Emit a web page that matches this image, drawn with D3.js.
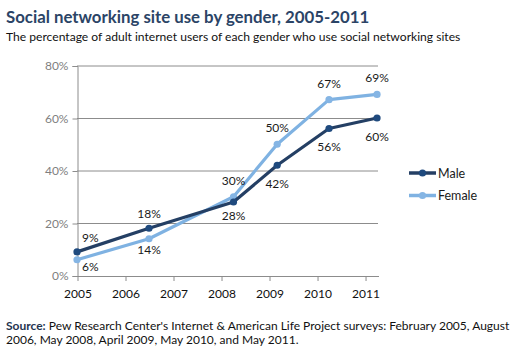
<!DOCTYPE html>
<meta charset="utf-8">
<style>
  body { margin: 0; background: #fff; }
  text { font-family: Lato, "Open Sans", sans-serif; }
</style>
<svg width="515" height="354"></svg>
<script src="https://cdn.jsdelivr.net/npm/d3@7"></script>
<script>

// survey dates as fractional years (Feb 2005, Aug 2006, May 2008, Apr 2009, May 2010, May 2011)
var surveyDates = [2005.0, 2006.5, 2008.26, 2009.17, 2010.25, 2011.25];
var male = [9, 18, 28, 42, 56, 60];
var female = [6, 14, 30, 50, 67, 69];
var yearTicks = [2005, 2006, 2007, 2008, 2009, 2010, 2011];
var pctTicks = [0, 20, 40, 60, 80];

var svg = d3.select("svg");
var x = d3.scaleLinear().domain([2005, 2011.27]).range([77, 378]);
var y = d3.scaleLinear().domain([0, 80]).range([275.5, 65.5]);

svg.append("text").attr("x", 6).attr("y", 23)
  .attr("font-size", 16.8).attr("font-weight", "bold").attr("fill", "#2b4466")
  .text("Social networking site use by gender, 2005-2011");
svg.append("text").attr("x", 6).attr("y", 41)
  .attr("font-size", 12.1).attr("fill", "#111")
  .text("The percentage of adult internet users of each gender who use social networking sites");

// gridlines
svg.append("g").selectAll("line").data(pctTicks.slice(1)).enter().append("line")
  .attr("x1", x.range()[0]).attr("x2", x.range()[1])
  .attr("y1", function(d) { return y(d) + 0.5; }).attr("y2", function(d) { return y(d) + 0.5; })
  .attr("stroke", "#8c8c8c").attr("stroke-width", 1);

var yAxis = svg.append("g").attr("transform", "translate(77.5,0.5)")
  .call(d3.axisLeft(y).tickValues(pctTicks).tickSize(5).tickPadding(4)
    .tickFormat(function(d) { return d + "%"; }));
yAxis.selectAll("text").attr("font-size", 12).attr("fill", "#7f7f7f").attr("font-family", "Lato, sans-serif");

var xAxis = svg.append("g").attr("transform", "translate(0.5," + (y(0) + 0.5) + ")")
  .call(d3.axisBottom(x).tickValues(yearTicks).tickSize(5).tickPadding(8).tickSizeOuter(0)
    .tickFormat(d3.format("d")));
xAxis.selectAll("text").attr("font-size", 12).attr("fill", "#111").attr("font-family", "Lato, sans-serif");
svg.selectAll(".domain, .tick line").attr("stroke", "#8c8c8c");

var series = [
  { name: "Male", values: male, line: "#243f64", dot: "#1f4a7e" },
  { name: "Female", values: female, line: "#7fb2e2", dot: "#85b5e4" }
];

var line = d3.line()
  .x(function(d, i) { return x(surveyDates[i]); })
  .y(function(d) { return y(d); });

// label baseline offsets: female above from 2008 on, male above only in the first two years
function labelOffset(s, i) {
  var above = s.name === "Male" ? (i < 2) : (i >= 2);
  if (above) return i < 2 ? -10 : -12;
  if (i === 0) return 11.5;
  if (i === 1) return 15.5;
  if (i === 2) return 17.5;
  return 22.5;
}

series.slice().reverse().forEach(function(s) {
  svg.append("path").datum(s.values).attr("d", line)
    .attr("fill", "none").attr("stroke", s.line).attr("stroke-width", 3.2)
    .attr("stroke-linejoin", "round");
  svg.append("g").selectAll("circle").data(s.values).enter().append("circle")
    .attr("cx", function(d, i) { return x(surveyDates[i]); })
    .attr("cy", function(d) { return y(d); })
    .attr("r", 3.6).attr("fill", s.dot);
});

series.forEach(function(s) {
  svg.append("g").selectAll("text").data(s.values).enter().append("text")
    .attr("x", function(d, i) { return i === 0 ? x(surveyDates[i]) + 5 : x(surveyDates[i]); })
    .attr("y", function(d, i) { return y(d) + labelOffset(s, i); })
    .attr("text-anchor", function(d, i) { return i === 0 ? "start" : "middle"; })
    .attr("font-size", 12).attr("fill", "#1a1a1a")
    .text(function(d) { return d + "%"; });
});

// legend
var legend = svg.append("g").selectAll("g").data(series).enter().append("g")
  .attr("transform", function(d, i) { return "translate(409," + (173 + i * 22.5) + ")"; });
legend.append("line").attr("x1", 0).attr("x2", 27)
  .attr("stroke", function(d) { return d.line; }).attr("stroke-width", 3.5);
legend.append("circle").attr("cx", 13.5).attr("r", 3.6).attr("fill", function(d) { return d.dot; });
legend.append("text").attr("x", 29).attr("y", 4.5).attr("font-size", 12.5).attr("fill", "#1a1a1a")
  .text(function(d) { return d.name; });

var src = svg.append("text").attr("x", 6).attr("y", 330).attr("font-size", 12).attr("fill", "#111");
src.append("tspan").attr("font-weight", "bold").attr("fill", "#1f3550").text("Source:");
src.append("tspan").text(" Pew Research Center's Internet & American Life Project surveys: February 2005, August");
svg.append("text").attr("x", 6).attr("y", 344).attr("font-size", 12).attr("fill", "#111")
  .text("2006, May 2008, April 2009, May 2010, and May 2011.");

</script>
